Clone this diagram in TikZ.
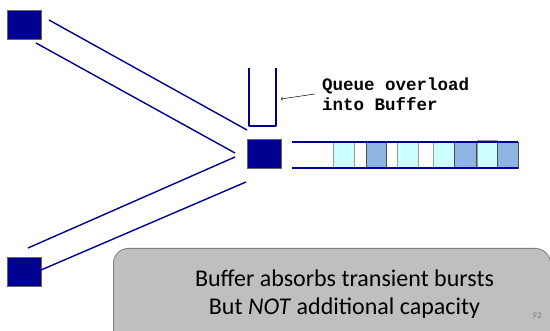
\documentclass[tikz,border=0pt]{standalone}
\usepackage{fontspec}
\newfontfamily\calfont{Carlito}
\newfontfamily\monofont{Liberation Mono}
\definecolor{navy}{HTML}{000090}
\definecolor{lcyan}{HTML}{CCFFFF}
\definecolor{mblue}{HTML}{8EB4E3}
\definecolor{boxgray}{HTML}{BFBFBF}
\definecolor{boxedge}{HTML}{7F7F7F}
\begin{document}
\begin{tikzpicture}[x=1pt,y=-1pt,
  sq/.style={draw=black!60,fill=navy,line width=0.6pt,minimum width=34pt,minimum height=29pt,inner sep=0pt},
  pipe/.style={draw=navy,line width=1.4pt},
  lc/.style={fill=lcyan,draw=gray!80,line width=0.8pt},
  mb/.style={fill=mblue,draw=black!70,line width=0.8pt},
  boxtext/.style={font=\calfont\fontsize{24}{28}\selectfont,inner sep=0pt,anchor=base}]
\useasboundingbox (0,0) rectangle (550,331);
% squares
\node[sq] (tl) at (24,24.5) {};
\node[sq] (ctr) at (264,153.5) {};
\node[sq] (bl) at (24,272) {};
% pipes
\coordinate (a1) at (49,20); \coordinate (a2) at (247,130);
\coordinate (b1) at (36,43); \coordinate (b2) at (235,153);
\coordinate (c1) at (28,248); \coordinate (c2) at (235,157);
\coordinate (d1) at (41,270); \coordinate (d2) at (246,182);
\draw[pipe] (a1) -- (a2);
\draw[pipe] (b1) -- (b2);
\draw[pipe] (c1) -- (c2);
\draw[pipe] (d1) -- (d2);
% queue U
\draw[pipe,line join=round] (249,68) -- (249,126) -- (276,126) -- (276,68);
% buffer cells
\draw[lc] (333,142) rectangle (354,168);
\draw[mb] (366,142) rectangle (386,168);
\draw[lc] (397,142) rectangle (418,168);
\draw[lc] (433,142) rectangle (454,168);
\draw[mb] (454,142) rectangle (476,168);
\draw[lc] (477,140) rectangle (497,168);
\draw[mb] (497,142) rectangle (518,168);
% buffer lines
\draw[pipe] (292,142) -- (518,142);
\draw[pipe] (292,168) -- (518,168);
% label and arrow
\node[anchor=north west,inner sep=0pt,align=left,font=\monofont\bfseries\fontsize{17.5}{19.5}\selectfont] (lbl) at (322,78) {Queue overload\\into Buffer};
\coordinate (arrs) at (315,94);
\coordinate (arre) at (281,99);
\draw[->,line width=0.5pt] (arrs) -- (arre);
% rounded box
\begin{scope}
\clip (0,0) rectangle (550,331);
\node[draw=boxedge,fill=boxgray,rounded corners=15pt,line width=0.8pt,anchor=north west,minimum width=437pt,minimum height=110pt] (box) at (113,248) {};
\end{scope}
\node[boxtext] (t1) at (344.5,287) {Buffer absorbs transient bursts};
\node[boxtext] (t2) at (344.5,315) {But \textit{NOT} additional capacity};
\node[font=\calfont\fontsize{9}{10}\selectfont,text=gray,inner sep=0pt] (pg) at (537,316) {92};
\end{tikzpicture}
\end{document}
